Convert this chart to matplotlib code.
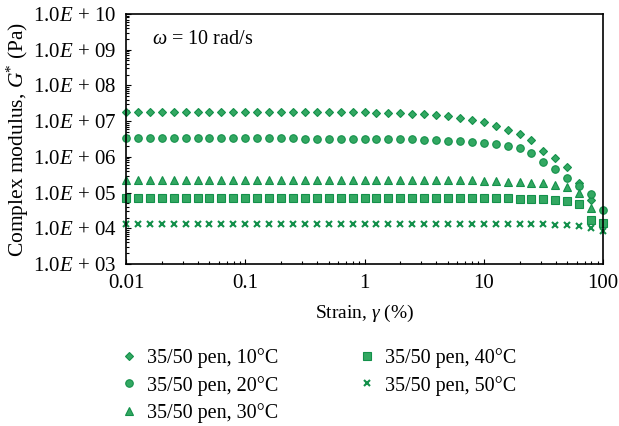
import matplotlib
matplotlib.use('Agg')
import matplotlib.pyplot as plt
from matplotlib.ticker import LogLocator, FixedLocator, NullFormatter
import numpy as np

plt.rcParams['font.family'] = 'Liberation Serif'
plt.rcParams['mathtext.fontset'] = 'custom'
plt.rcParams['mathtext.rm'] = 'Liberation Serif'
plt.rcParams['mathtext.it'] = 'Liberation Serif:italic'

# strain (%) : 10 points per decade, 0.01 .. 100
strain = 10 ** (-2 + np.arange(41) / 10)

g_10 = [1.77e7] * 21 + [1.74e7, 1.74e7, 1.66e7, 1.63e7, 1.56e7, 1.49e7, 1.37e7, 1.26e7,
                        1.10e7, 9.3e6, 7.3e6, 5.8e6, 4.5e6, 2.95e6, 1.45e6, 9.5e5, 5.15e5,
                        1.8e5, 6.0e4, np.nan]
g_20 = [3.30e6] * 15 + [3.23e6] * 8 + [3.15e6, 3.09e6, 3.03e6, 2.95e6, 2.84e6, 2.72e6, 2.55e6,
                                        2.43e6, 2.28e6, 2.06e6, 1.80e6, 1.27e6, 6.98e5, 4.44e5,
                                        2.48e5, 1.48e5, 9.4e4, 3.34e4]
g_30 = [2.25e5] * 28 + [2.21e5, 2.18e5, 2.14e5, 2.08e5, 2.04e5, 2.00e5, 1.91e5, 1.83e5,
                        1.68e5, 1.41e5, 9.8e4, 3.63e4, np.nan]
g_40 = [7.26e4] * 31 + [7.13e4, 6.94e4, 6.81e4, 6.67e4, 6.50e4, 6.38e4, 5.71e4, 4.92e4,
                        1.72e4, 1.41e4]
g_50 = [1.31e4] * 36 + [1.27e4, 1.21e4, 1.14e4, 1.02e4, 8.2e3]

series = [g_10, g_20, g_30, g_40, g_50]
labels = ['35/50 pen, 10°C', '35/50 pen, 20°C', '35/50 pen, 30°C',
          '35/50 pen, 40°C', '35/50 pen, 50°C']
markers = ['D', 'o', '^', 's', 'x']
sizes = [4.0, 5.4, 5.2, 5.2, 4.2]

fill = '#33a862'
edge = '#13904a'

fig = plt.figure(figsize=(6.19, 4.26), dpi=100)
ax = fig.add_axes([126 / 619, 1 - 264 / 426, (603 - 126) / 619, (264 - 14) / 426])

for vals, lab, m, s in zip(series, labels, markers, sizes):
    if m == 'x':
        ax.plot(strain, vals, linestyle='none', marker=m, ms=s, mew=1.5,
                color=edge, label=lab, clip_on=False)
    else:
        ax.plot(strain, vals, linestyle='none', marker=m, ms=s, mfc=fill,
                mec=edge, mew=0.8, label=lab, clip_on=False)

ax.set_xscale('log')
ax.set_yscale('log')
ax.set_xlim(0.01, 100)
ax.set_ylim(1e3, 1e10)

ax.set_xticks([0.01, 0.1, 1, 10, 100])
ax.set_xticklabels(['0.01', '0.1', '1', '10', '100'])
yt = [10.0 ** k for k in range(3, 11)]
ax.yaxis.set_major_locator(FixedLocator(yt))
ax.set_yticklabels(['1.0$E$ + %02d' % k for k in range(3, 11)])
ax.xaxis.set_minor_locator(LogLocator(base=10, subs=np.arange(2, 10), numticks=20))
ax.yaxis.set_minor_locator(LogLocator(base=10, subs=np.arange(2, 10), numticks=20))
ax.xaxis.set_minor_formatter(NullFormatter())
ax.yaxis.set_minor_formatter(NullFormatter())
ax.tick_params(which='both', direction='in', labelsize=15, width=0.8)
ax.tick_params(which='major', length=3.5, pad=7)
ax.tick_params(which='minor', length=2)
for sp in ax.spines.values():
    sp.set_linewidth(1.2)

ax.set_xlabel('Strain, $\\gamma$ (%)', fontsize=14, labelpad=7)
ax.set_ylabel('Complex modulus, $G$$^{*}$ (Pa)', fontsize=15.5, labelpad=1)
ax.text(0.055, 0.896, '$\\omega$ = 10 rad/s', transform=ax.transAxes, fontsize=14.5,
        va='center')

fig.legend(loc='upper left', bbox_to_anchor=(113 / 619, 1 - 340 / 426), ncol=2,
           frameon=False, fontsize=14.5, handlelength=0.8, handletextpad=0.5,
           columnspacing=4.0, labelspacing=0.38, borderaxespad=0)

fig.savefig('out.png', dpi=100)
